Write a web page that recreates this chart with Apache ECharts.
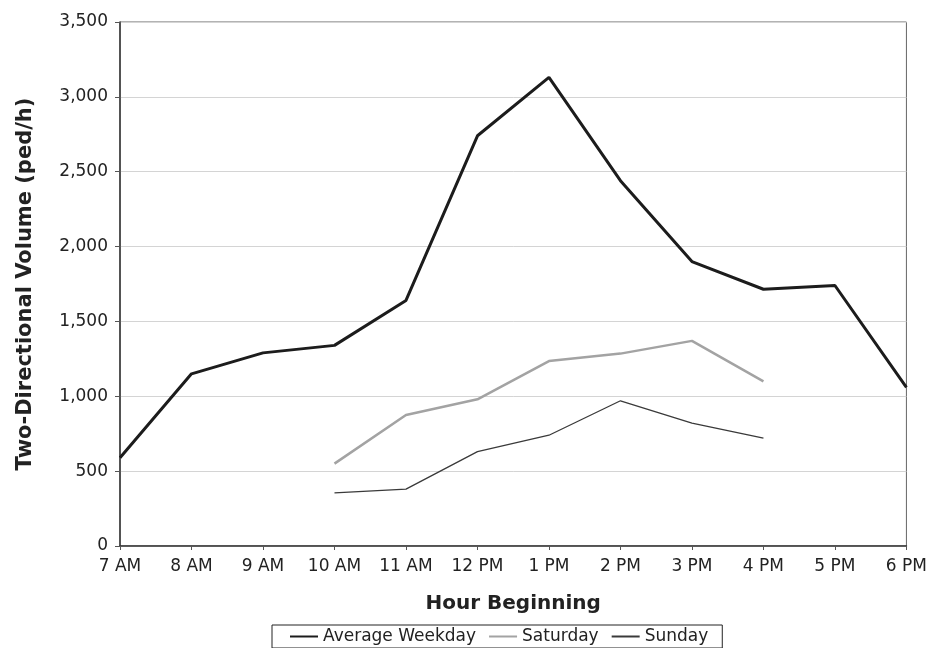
<!DOCTYPE html>
<html>
<head>
<meta charset="utf-8">
<script src="https://cdn.jsdelivr.net/npm/echarts@6/dist/echarts.min.js"></script>
<style>
html,body{margin:0;padding:0;background:#fff;}
#chart{width:930px;height:648px;}
</style>
</head>
<body>
<div id="chart"></div>
<script>
const hours = ['7 AM','8 AM','9 AM','10 AM','11 AM','12 PM','1 PM','2 PM','3 PM','4 PM','5 PM','6 PM'];
const weekday = [590, 1150, 1290, 1340, 1640, 2740, 3130, 2440, 1900, 1715, 1740, 1060];
const saturday = [null, null, null, 550, 875, 980, 1235, 1285, 1370, 1100, null, null];
const sunday = [null, null, null, 355, 380, 630, 740, 970, 820, 720, null, null];
const yTicks = [0, 500, 1000, 1500, 2000, 2500, 3000, 3500];

const font = 'DejaVu Sans';
const chart = echarts.init(document.getElementById('chart'));
chart.setOption({
  animation: false,
  backgroundColor: '#fff',
  grid: {left: 120, right: 19, top: 22, bottom: 102, show: true, borderColor: '#666', borderWidth: 1, backgroundColor: 'transparent'},
  legend: {
    left: 272, bottom: 0,
    data: ['Average Weekday', 'Saturday', 'Sunday'],
    itemWidth: 28, itemHeight: 10, itemGap: 12,
    padding: [3, 14, 3, 17],
    borderColor: '#222', borderWidth: 1,
    itemStyle: {opacity: 0},
    textStyle: {fontFamily: font, fontSize: 17, color: '#222'}
  },
  xAxis: {
    type: 'category', data: hours, boundaryGap: false,
    name: 'Hour Beginning', nameLocation: 'middle', nameGap: 48,
    nameTextStyle: {fontFamily: font, fontSize: 20, fontWeight: 'bold', color: '#222'},
    axisLine: {lineStyle: {color: '#333', width: 1.5}},
    axisTick: {show: true, alignWithLabel: true, length: 4, lineStyle: {color: '#555'}},
    axisLabel: {fontFamily: font, fontSize: 17, color: '#222', margin: 12, interval: 0},
    splitLine: {show: false}
  },
  yAxis: {
    type: 'value', min: yTicks[0], max: yTicks[yTicks.length - 1], interval: 500,
    name: 'Two-Directional Volume (ped/h)', nameLocation: 'middle', nameGap: 84,
    nameTextStyle: {fontFamily: font, fontSize: 21, fontWeight: 'bold', color: '#222'},
    axisLine: {show: true, lineStyle: {color: '#333', width: 1.5}},
    axisTick: {show: true, length: 5, lineStyle: {color: '#555'}},
    axisLabel: {fontFamily: font, fontSize: 17, color: '#222', margin: 12,
      formatter: v => v.toLocaleString('en-US')},
    splitLine: {show: true, lineStyle: {color: '#d4d4d4', width: 1}}
  },
  series: [
    {name: 'Average Weekday', type: 'line', data: weekday, symbol: 'none',
     lineStyle: {color: '#1c1c1c', width: 3}, itemStyle: {color: '#1c1c1c'}},
    {name: 'Saturday', type: 'line', data: saturday, symbol: 'none',
     lineStyle: {color: '#a3a3a3', width: 2.5}, itemStyle: {color: '#a3a3a3'}},
    {name: 'Sunday', type: 'line', data: sunday, symbol: 'none',
     lineStyle: {color: '#3a3a3a', width: 1.3}, itemStyle: {color: '#3a3a3a'}}
  ]
});
</script>
</body>
</html>
